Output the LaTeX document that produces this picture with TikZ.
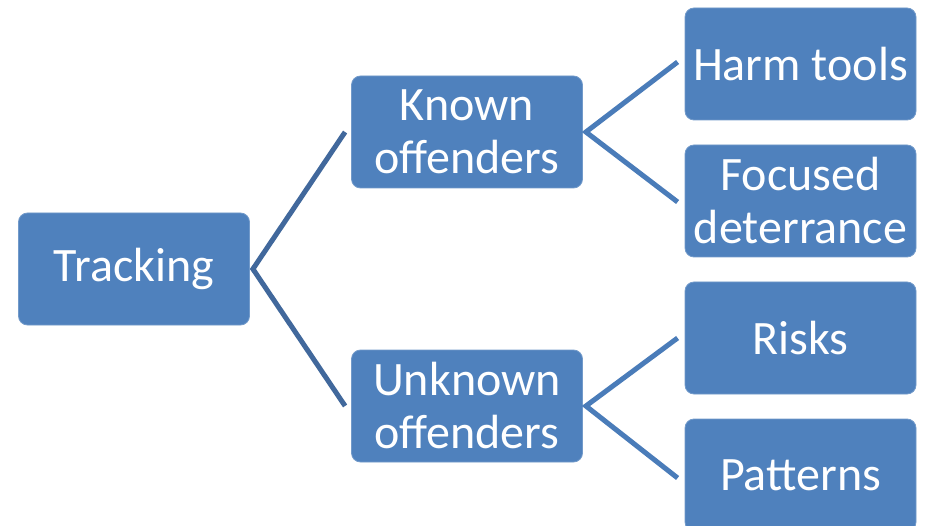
\documentclass[tikz,border=0pt]{standalone}
\usepackage{fontspec}
\setmainfont{Carlito}
\definecolor{boxfill}{HTML}{4F81BD}
\definecolor{connA}{HTML}{41689C}
\definecolor{connB}{HTML}{4A7CB9}
\begin{document}
\begin{tikzpicture}[x=1pt,y=-1pt,
  box/.style={fill=boxfill, draw=boxfill!80!white, line width=0.8pt, rounded corners=9pt,
    minimum width=231pt, minimum height=112pt, inner sep=0pt, align=center,
    text=white, font=\fontsize{48}{53}\selectfont},
  connone/.style={draw=connA, line width=5pt, line join=miter},
  conntwo/.style={draw=connB, line width=5pt, line join=miter}]
\useasboundingbox (0,0) rectangle (925,526);
\fill[white] (0,0) rectangle (925,526);
\node[box] (tr) at (134,269) {Tracking};
\node[box] (kn) at (467,132) {Known\\offenders};
\node[box] (un) at (467,406) {Unknown\\offenders};
\node[box] (ha) at (800.5,64) {Harm tools};
\node[box] (fo) at (800.5,201) {Focused\\deterrance};
\node[box] (ri) at (800.5,338) {Risks};
\node[box] (pa) at (800.5,475) {Patterns};
\draw[connone] ([xshift=-6pt]kn.west) -- ([xshift=3pt]tr.east) -- ([xshift=-6pt]un.west);
\draw[conntwo] ([xshift=-7pt,yshift=2pt]ha.west) -- ([xshift=3pt]kn.east) -- ([xshift=-7pt,yshift=-1pt]fo.west);
\draw[conntwo] ([xshift=-7pt]ri.west) -- ([xshift=3pt]un.east) -- ([xshift=-7pt,yshift=-3pt]pa.west);
\end{tikzpicture}
\end{document}
